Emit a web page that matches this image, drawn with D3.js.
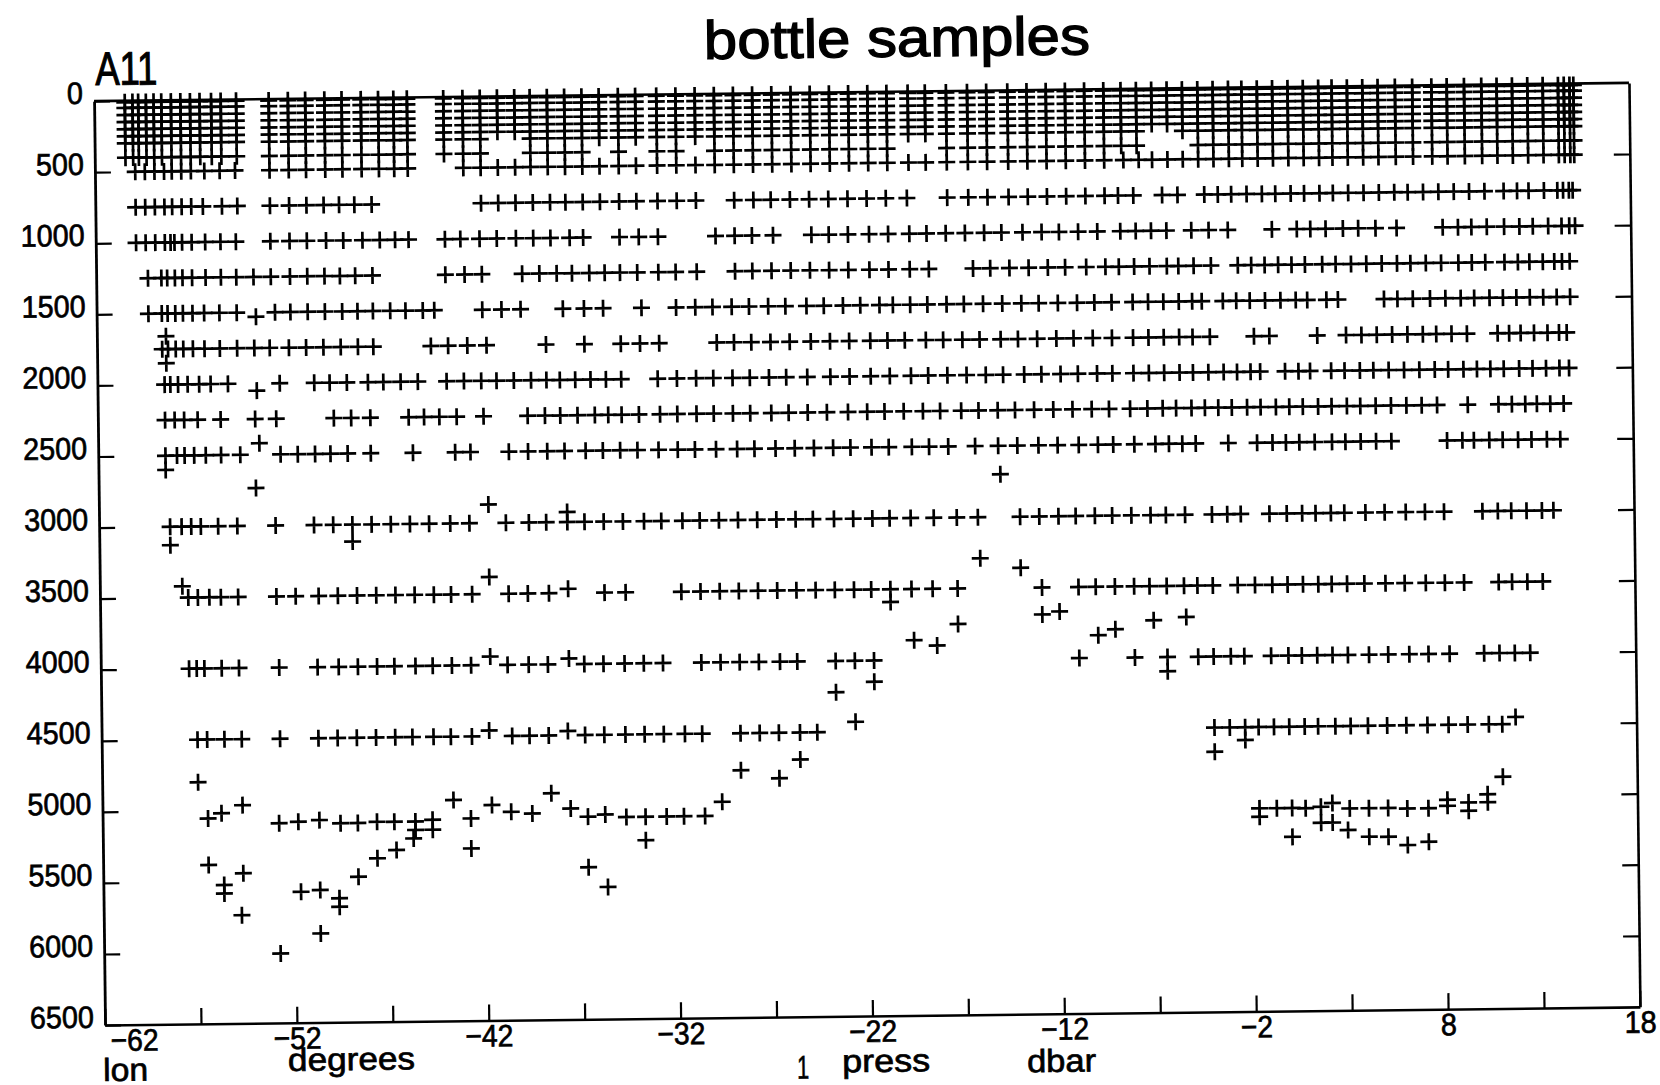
<!DOCTYPE html>
<html><head><meta charset="utf-8">
<script src="https://cdn.jsdelivr.net/npm/d3@7"></script>
<style>html,body{margin:0;padding:0;background:#fff}svg{display:block}</style>
</head><body>
<svg id="chart" width="1660" height="1085"></svg>
<script>
// ---------------- DATA ----------------
const chartTitle = "bottle samples";
const sectionName = "A11";
const lonTickValues = [-62,-57,-52,-47,-42,-37,-32,-27,-22,-17,-12,-7,-2,3,8,13,18];
const lonTickLabels = [-62,-52,-42,-32,-22,-12,-2,8,18];
const pressTickValues = [0,500,1000,1500,2000,2500,3000,3500,4000,4500,5000,5500,6000,6500];

// station longitudes (columns of the dense upper band) and their deepest upper sample
const stations = [-60.4,-60.0,-59.7,-59.3,-58.9,-58.5,-58.0,-57.5,-57.0,-56.5,-55.9,-55.4,-54.6,
 -52.9,-51.9,-51.0,-50.0,-49.1,-48.1,-47.2,-46.4,-45.7,
 -43.8,-42.8,-41.9,-41.0,-40.1,-39.3,-38.4,-37.5,-36.6,-35.7,-34.7,-33.8,-32.7,-31.7,-30.7,-29.7,-28.7,-27.7,-26.7,-25.7,-24.7,-23.7,-22.7,-21.7,-20.7,-19.6,-18.7,-17.6,-16.5,-15.5,-14.4,-13.4,-12.4,-11.4,-10.4,-9.4,
 -8.5,-7.7,-6.9,-6.1,-5.3,-4.5,-3.7,-2.9,-2.2,-1.4,-0.6,0.2,1.0,1.8,2.5,3.3,4.1,4.9,5.8,6.7,7.7,8.5,9.4,10.3,11.1,11.9,12.7,13.5,14.3,14.6,14.9,15.1];
const shallowMax = [400,400,400,400,400,400,400,400,400,400,400,400,400,
 400,400,400,400,400,400,400,400,400,
 400,400,400,250,250,400,400,400,400,300,400,300,400,400,300,400,400,400,400,400,400,400,400,400,400,300,300,400,400,400,400,400,400,400,400,400,
 400,400,250,250,300,400,400,400,400,400,400,400,400,400,400,400,400,400,400,400,400,400,400,400,400,400,400,400,400,400,400,400];
const shallowLevels = [10,50,100,150,200,250,300,400];

// standard sampling levels below the upper band
const rowLevels = [500,750,1000,1250,1500,1750,2000,2250,2500,3000,3500,4000,4500];
const lon500 = [-59.9,-59.4,-58.9,-58.4,-58.0,-57.5,-57.0,-56.3,-55.5,-54.7,-52.9,-51.9,-51.0,-50.0,-49.1,-48.1,-47.2,-46.4,-45.7,-42.8,-41.9,-41.0,-40.1,-39.3,-38.4,-37.5,-36.6,-35.7,-34.7,-33.8,-32.7,-31.7,-30.7,-29.7,-28.7,-27.7,-26.7,-25.7,-24.7,-23.7,-22.7,-21.7,-20.7,-19.6,-18.7,-17.6,-16.5,-15.5,-14.4,-13.4,-12.4,-11.4,-10.4,-9.4,-8.4,-7.6,-6.9,-6.1,-5.3,-4.5,-3.7,-2.9,-2.2,-1.4,-0.6,0.2,1.0,1.8,2.5,3.3,4.1,4.9,5.8,6.7,7.7,8.5,9.4,10.3,11.1,11.9,12.7,13.5,14.3,14.6,14.9,15.1];
const lon750 = [-59.9,-59.4,-58.9,-58.4,-58.0,-57.5,-57.0,-56.4,-55.4,-54.6,-52.9,-51.9,-51.0,-50.1,-49.3,-48.5,-47.6,-41.9,-41.0,-40.1,-39.2,-38.3,-37.5,-36.6,-35.7,-34.7,-33.8,-32.7,-31.7,-30.7,-28.7,-27.7,-26.8,-25.8,-24.8,-23.8,-22.8,-21.8,-20.8,-19.7,-17.6,-16.5,-15.5,-14.4,-13.4,-12.4,-11.4,-10.4,-9.4,-8.7,-7.9,-6.4,-5.6,-4.2,-3.5,-2.8,-2.0,-1.2,-0.5,0.3,1.0,1.8,2.5,3.3,4.1,4.9,5.7,6.4,7.2,8.0,8.8,9.6,10.4,11.4,12.1,12.7,13.5,14.2,14.5,14.8,15.0];
const lon1000 = [-59.9,-59.4,-58.9,-58.4,-58.1,-57.9,-57.5,-57.0,-56.3,-55.5,-54.7,-52.9,-51.9,-51.0,-50.0,-49.1,-48.1,-47.2,-46.4,-45.7,-43.8,-43.0,-42.0,-41.1,-40.1,-39.2,-38.3,-37.3,-36.6,-34.7,-33.7,-32.7,-29.7,-28.7,-27.8,-26.7,-24.7,-23.8,-22.8,-21.7,-20.7,-19.6,-18.7,-17.7,-16.7,-15.7,-14.8,-13.7,-12.7,-11.8,-10.8,-9.8,-8.6,-7.8,-7.0,-6.2,-4.9,-4.0,-3.0,-0.7,0.6,1.3,2.1,3.0,3.8,4.7,5.8,8.2,9.0,9.7,10.5,11.4,12.2,12.9,13.7,14.4,14.8,15.1];
const lon1250 = [-59.3,-58.6,-58.3,-57.9,-57.5,-57.0,-56.3,-55.5,-54.7,-53.8,-52.9,-51.9,-51.0,-50.1,-49.3,-48.5,-47.6,-43.8,-42.8,-41.9,-39.8,-38.9,-38.0,-37.2,-36.3,-35.5,-34.7,-33.8,-32.7,-31.8,-30.7,-28.7,-27.8,-26.8,-25.8,-24.8,-23.8,-22.8,-21.7,-20.7,-19.6,-18.6,-16.3,-15.4,-14.4,-13.4,-12.4,-11.5,-10.4,-9.4,-8.7,-7.9,-7.1,-6.2,-5.6,-4.8,-3.9,-2.5,-1.8,-1.1,-0.4,0.3,1.0,1.9,2.6,3.4,4.2,5.0,5.8,6.5,7.3,8.1,9.0,9.7,10.4,11.4,12.1,12.7,13.4,14.0,14.4,14.8];
const lon1500 = [-59.3,-58.6,-58.3,-57.9,-57.5,-57.0,-56.4,-55.6,-54.7,-52.7,-51.9,-51.0,-50.1,-49.2,-48.4,-47.6,-46.7,-45.9,-45.0,-44.4,-41.9,-40.9,-39.9,-37.7,-36.6,-35.6,-33.6,-31.8,-30.8,-29.9,-28.9,-28.0,-27.0,-26.1,-25.0,-24.1,-23.1,-22.2,-21.2,-20.5,-19.6,-18.7,-17.7,-16.8,-15.8,-14.8,-13.8,-12.9,-11.9,-10.9,-10.0,-9.1,-8.0,-7.2,-6.4,-5.6,-4.9,-4.4,-3.3,-2.6,-1.9,-1.1,-0.3,0.5,1.1,2.1,2.7,5.1,5.8,6.6,7.5,8.3,9.1,9.8,10.6,11.3,12.0,12.7,13.4,14.1,14.8];
const lon1750 = [-58.6,-58.3,-57.9,-57.5,-57.0,-56.4,-55.6,-54.7,-53.8,-53.0,-52.0,-51.1,-50.2,-49.3,-48.4,-47.6,-44.6,-43.7,-42.7,-41.7,-38.6,-36.6,-34.7,-33.7,-32.7,-29.7,-28.8,-27.9,-26.9,-25.9,-24.8,-23.8,-22.8,-21.7,-20.8,-19.9,-18.8,-17.9,-16.9,-16.0,-14.9,-14.0,-13.0,-12.0,-11.1,-10.1,-9.1,-8.0,-7.2,-6.4,-5.6,-4.9,-4.0,-1.7,-0.9,1.6,3.1,3.9,4.7,5.5,6.3,7.1,7.8,8.6,9.4,11.0,11.6,12.2,12.9,13.6,14.2,14.6];
const lon2000 = [-58.5,-58.2,-57.8,-57.3,-56.7,-56.1,-55.2,-52.5,-50.7,-49.9,-49.0,-47.9,-47.1,-46.2,-45.3,-43.8,-42.9,-42.0,-41.2,-40.3,-39.4,-38.6,-37.9,-37.1,-36.3,-35.5,-34.7,-32.8,-31.8,-30.8,-29.9,-28.9,-28.0,-27.0,-26.1,-25.0,-23.8,-22.8,-21.7,-20.7,-19.6,-18.7,-17.7,-16.7,-15.7,-14.8,-13.7,-12.8,-11.8,-10.9,-9.9,-9.1,-8.0,-7.2,-6.4,-5.6,-4.9,-4.1,-3.3,-2.6,-1.9,-1.4,-0.1,0.6,1.2,2.3,3.0,3.8,4.5,5.3,6.1,6.9,7.7,8.4,9.2,9.9,10.6,11.3,12.1,12.8,13.5,14.2,14.7];
const lon2250 = [-58.5,-58.0,-57.5,-56.8,-55.6,-53.8,-52.7,-49.7,-48.8,-47.8,-45.8,-45.0,-44.2,-43.3,-41.9,-39.6,-38.7,-37.9,-37.0,-36.1,-35.4,-34.7,-33.8,-32.7,-31.8,-30.8,-29.9,-28.9,-28.0,-26.9,-26.0,-25.0,-24.0,-22.9,-21.9,-21.0,-20.0,-19.0,-18.1,-17.0,-16.1,-15.1,-14.2,-13.2,-12.2,-11.2,-10.2,-9.3,-8.2,-7.3,-6.5,-5.8,-5.0,-4.3,-3.6,-2.9,-2.1,-1.4,-0.6,0.1,0.8,1.6,2.3,3.1,3.8,4.6,5.4,6.2,7.0,7.8,9.4,11.0,11.7,12.4,13.0,13.7,14.4];
const lon2500 = [-58.5,-57.9,-57.5,-57.0,-56.4,-55.6,-54.6,-52.5,-51.6,-50.7,-49.9,-49.0,-47.8,-45.6,-43.4,-42.6,-40.6,-39.6,-38.6,-37.7,-36.6,-35.7,-34.8,-33.9,-32.8,-31.8,-30.9,-29.8,-28.7,-27.8,-26.7,-25.7,-24.7,-23.7,-22.8,-21.7,-20.8,-19.6,-18.7,-17.7,-16.3,-15.1,-14.1,-13.0,-12.0,-10.9,-9.9,-9.1,-8.0,-6.9,-6.2,-5.5,-4.8,-3.1,-1.6,-0.8,-0.1,0.6,1.4,2.3,3.0,3.8,4.6,5.4,8.3,9.1,9.7,10.5,11.2,12.0,12.7,13.5,14.2];
const lon3000 = [-58.3,-57.7,-57.2,-56.7,-55.8,-54.8,-52.8,-50.8,-49.8,-48.8,-47.8,-46.8,-45.8,-44.8,-43.7,-42.7,-40.8,-39.6,-38.7,-37.6,-36.7,-35.7,-34.7,-33.6,-32.7,-31.6,-30.7,-29.7,-28.7,-27.7,-26.7,-25.7,-24.8,-23.7,-22.7,-21.7,-20.8,-19.7,-18.5,-17.3,-16.2,-14.0,-13.0,-12.0,-11.1,-10.1,-9.2,-8.2,-7.2,-6.4,-5.4,-4.0,-3.2,-2.5,-1.0,-0.1,0.7,1.4,2.2,2.9,4.0,5.0,6.1,7.1,8.1,10.1,10.9,11.6,12.4,13.2,13.8];
const lon3500 = [-57.4,-56.9,-56.3,-55.7,-54.8,-52.8,-51.8,-50.6,-49.6,-48.6,-47.6,-46.6,-45.6,-44.6,-43.7,-42.6,-40.7,-39.7,-38.6,-35.7,-34.6,-31.7,-30.7,-29.7,-28.7,-27.7,-26.7,-25.7,-24.7,-23.7,-22.7,-21.8,-20.8,-19.7,-18.6,-17.3,-12.9,-11.0,-10.1,-9.1,-8.1,-7.3,-6.4,-5.5,-4.8,-4.0,-2.7,-1.8,-0.9,-0.1,0.7,1.5,2.2,3.0,3.9,5.0,6.0,7.1,8.1,9.1,10.9,11.6,12.4,13.2];
const lon4000 = [-57.4,-57.0,-56.6,-55.7,-54.8,-52.7,-50.7,-49.6,-48.6,-47.6,-46.7,-45.6,-44.7,-43.7,-42.7,-40.8,-39.7,-38.7,-36.8,-35.8,-34.7,-33.7,-32.7,-30.7,-29.7,-28.7,-27.7,-26.6,-25.7,-23.7,-22.7,-21.7,-11.0,-8.1,-6.4,-4.8,-4.0,-3.1,-2.4,-1.0,-0.1,0.6,1.4,2.2,3.0,4.1,5.1,6.2,7.2,8.3,10.1,10.9,11.7,12.5];
const lon4500 = [-57.0,-56.5,-55.6,-54.7,-52.7,-50.7,-49.7,-48.7,-47.7,-46.7,-45.8,-44.7,-43.8,-42.7,-40.6,-39.7,-38.7,-36.8,-35.8,-34.7,-33.7,-32.7,-31.6,-30.7,-28.7,-27.7,-26.7,-25.6,-24.7,-4.0,-3.2,-2.4,-1.7,-0.9,-0.1,0.7,1.4,2.3,3.1,4.0,5.0,6.0,7.1,8.2,9.2,10.3,11.0];

// samples away from the standard rows: [lon, press]
const offRowSamples = [[-58.4,1660],[-58.4,1850],[-53.7,1530],[-53.7,2050],[-58.5,2600],[-53.6,2420],[-53.8,2735],[-15.0,2700],
 [-58.3,3130],[-48.8,3120],[-41.7,2870],[-37.6,2930],[-16.1,3290],[-14.0,3360],
 [-57.7,3420],[-41.7,3380],[-37.6,3470],[-20.8,3590],[-17.3,3750],[-19.6,3860],[-18.4,3900],[-12.9,3690],[-12.0,3670],[-10.0,3840],[-9.1,3800],[-7.1,3740],[-5.4,3720],
 [-41.7,3940],[-37.6,3960],[-23.7,4220],[-21.7,4150],[-22.7,4430],[-6.4,4100],
 [-41.8,4460],[-37.7,4470],[-57.0,4800],[-25.6,4690],[-28.7,4760],[-26.7,4820],[-4.0,4670],[-2.4,4590],[11.7,4450]];
// deepest samples near and below 5000 dbar: [lon, press]
const deepSamples = [[-56.5,5055],[-55.8,5020],[-54.7,4964],[-52.8,5095],[-51.8,5086],[-50.7,5076],[-49.6,5100],[-48.7,5100],[-47.7,5093],[-46.8,5094],[-45.7,5094],[-45.7,5153],[-44.8,5083],[-44.8,5153],[-43.7,4946],[-42.8,5077],[-41.7,4985],[-40.7,5034],[-39.6,5047],[-38.6,4907],[-37.6,5015],[-36.7,5074],[-35.8,5060],[-34.7,5080],[-33.7,5080],[-32.6,5080],[-31.7,5080],[-30.6,5080],[-29.7,4981],
 [-56.5,5383],[-55.7,5525],[-55.7,5584],[-54.7,5444],[-54.8,5738],[-51.7,5579],[-50.7,5568],[-49.7,5628],[-49.7,5687],[-48.7,5478],[-47.7,5350],[-46.7,5293],[-45.8,5213],[-50.7,5873],[-52.8,6011],[-42.8,5288],[-36.7,5430],[-35.7,5570],[-33.7,5244],
 [-1.7,5072],[-1.7,5131],[-0.8,5072],[0.0,5072],[0.7,5075],[1.5,5066],[1.5,5178],[2.1,5040],[2.1,5178],[3.0,5080],[4.0,5080],[5.0,5080],[6.0,5085],[7.1,5085],[8.1,5027],[8.1,5070],[9.2,5047],[9.2,5106],[10.2,4992],[10.2,5047],[11.0,4870],
 [0.0,5275],[2.9,5232],[4.0,5280],[5.0,5282],[6.0,5343],[7.1,5321]];

// ---------------- DRAWING ----------------
const W = 1660, H = 1085;
const X0 = 99.5, X1 = 1634.5, Y0 = 92, Y1 = 1016;
const FONT = "'Liberation Sans', Arial, Helvetica, sans-serif";
const svg = d3.select("#chart");
svg.append("rect").attr("width", W).attr("height", H).attr("fill", "#fff");
const root = svg.append("g").attr("transform", "rotate(-0.68,867,554)");

const x = d3.scaleLinear().domain([-62, 18]).range([X0, X1]);
const y = d3.scaleLinear().domain([0, 6500]).range([Y0, Y1]);

const rowArrays = [lon500, lon750, lon1000, lon1250, lon1500, lon1750, lon2000, lon2250, lon2500, lon3000, lon3500, lon4000, lon4500];
const pts = [];
stations.forEach((lon, i) => shallowLevels.forEach(p => { if (p <= shallowMax[i]) pts.push([lon, p]); }));
rowLevels.forEach((p, k) => rowArrays[k].forEach(lon => pts.push([lon, p])));
offRowSamples.forEach(d => pts.push(d));
deepSamples.forEach(d => pts.push(d));

const fmt = d => d < 0 ? "\u2212" + Math.abs(d) : String(d);
function styleText(sel, size) {
  sel.selectAll("text").attr("font-size", size).attr("font-family", FONT).attr("fill", "#000")
    .attr("stroke", "#000").attr("stroke-width", 0.7)
    .each(function () { const t = d3.select(this); const s = t.text(); if (s) t.attr("textLength", 16 * s.length).attr("lengthAdjust", "spacingAndGlyphs"); });
}

// bottom axis
const gx = root.append("g").attr("transform", `translate(0,${Y1})`)
  .call(d3.axisBottom(x).tickValues(lonTickValues).tickSizeInner(-16).tickSizeOuter(0)
    .tickFormat(d => lonTickLabels.includes(d) ? fmt(d) : ""));
gx.attr("font-size", null).attr("font-family", null);
gx.select(".domain").attr("stroke", "#000").attr("stroke-width", 2.6);
gx.selectAll(".tick line").attr("stroke", "#000").attr("stroke-width", 2.2);
styleText(gx, 31);
gx.selectAll("text").attr("y", 26).attr("dy", 0);
gx.selectAll(".tick").filter(d => d === -62).select("text").attr("text-anchor", "start").attr("x", 5);

// left axis
const gy = root.append("g").attr("transform", `translate(${X0},0)`)
  .call(d3.axisLeft(y).tickValues(pressTickValues).tickSizeInner(-16).tickSizeOuter(0).tickPadding(11).tickFormat(d => String(d)));
gy.attr("font-size", null).attr("font-family", null);
gy.select(".domain").attr("stroke", "#000").attr("stroke-width", 2.8);
gy.selectAll(".tick line").attr("stroke", "#000").attr("stroke-width", 2.2);
styleText(gy, 31);
gy.selectAll("text").attr("dy", 2);

// right axis
const gr = root.append("g").attr("transform", `translate(${X1},0)`)
  .call(d3.axisRight(y).tickValues(pressTickValues.filter(v => v > 0 && v < 6500)).tickSizeInner(-16).tickSizeOuter(0).tickFormat(() => ""));
gr.select(".domain").attr("stroke", "#000").attr("stroke-width", 2.6);
gr.selectAll(".tick line").attr("stroke", "#000").attr("stroke-width", 2.2);

// top frame line
root.append("line").attr("x1", x(-62)).attr("x2", x(18)).attr("y1", y(0)).attr("y2", y(0))
  .attr("stroke", "#000").attr("stroke-width", 2.6);

// sample markers
const ARM = 8.5;
root.append("g").attr("fill", "none").attr("stroke", "#000").attr("stroke-width", 2.7)
  .selectAll("path").data(pts).join("path")
  .attr("d", `M${-ARM},0H${ARM}M0,${-ARM}V${ARM}`)
  .attr("transform", d => `translate(${x(d[0]).toFixed(1)},${y(d[1]).toFixed(1)})`);

// texts
function label(txt, xx, yy, size, len, anchor, sw) {
  root.append("text").attr("x", xx).attr("y", yy).attr("font-size", size).attr("font-family", FONT)
    .attr("text-anchor", anchor || "start").attr("fill", "#000")
    .attr("stroke", "#000").attr("stroke-width", sw || 0.7)
    .attr("textLength", len).attr("lengthAdjust", "spacingAndGlyphs").text(txt);
}
label(chartTitle, 903, 57, 54, 386, "middle", 1.3);
label(sectionName, X0 + 1.5, 76, 47, 62, "start", 1.1);
label("lon", X0 - 2.5, Y1 + 56, 32, 45);
label("degrees", 282, Y1 + 48, 32, 127);
label("1", 797, Y1 + 62, 33, 12, "middle");
label("press", 836, Y1 + 56, 32, 88);
label("dbar", 1021, Y1 + 58, 32, 69);
</script>
</body></html>
